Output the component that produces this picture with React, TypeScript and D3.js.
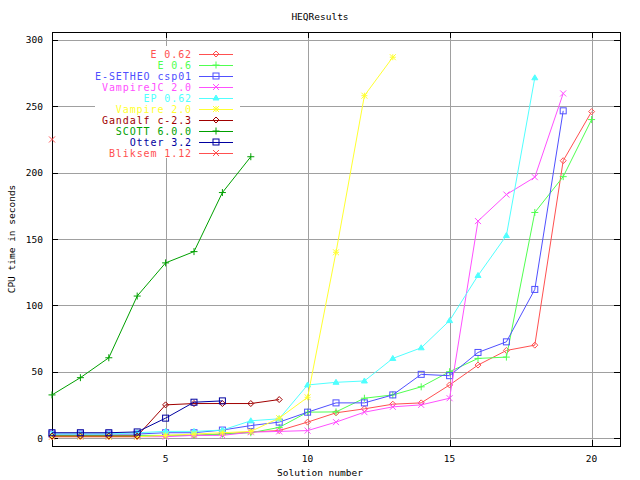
import React from "react";
import * as d3 from "d3";

const title = "HEQResults";
const xLabel = "Solution number";
const yLabel = "CPU time in seconds";
const xTicks = [5, 10, 15, 20];
const yTicks = [0, 50, 100, 150, 200, 250, 300];

const seriesNames = [
  "E 0.62",
  "E 0.6",
  "E-SETHEO csp01",
  "VampireJC 2.0",
  "EP 0.62",
  "Vampire 2.0",
  "Gandalf c-2.3",
  "SCOTT 6.0.0",
  "Otter 3.2",
  "Bliksem 1.12",
];
const seriesColors = [
  "#ff5050",
  "#50ff50",
  "#5050ff",
  "#ff50ff",
  "#50ffff",
  "#ffff30",
  "#a00000",
  "#00a000",
  "#0000a0",
  "#ff5050",
];
const seriesMarkers = ["diamond", "plus", "square", "cross", "triangle", "star", "diamond", "plus", "square", "cross"];

const e062 = [1, 1, 1, 1, 2, 2, 3, 4.6, 5.6, 12, 19, 22, 25.5, 26.5, 40, 55, 66, 70, 209, 246];
const e06 = [2, 2, 2, 2, 2, 2, 3, 4, 8, 19.5, 19.7, 30, 32.5, 38.6, 50, 60, 61, 170, 197, 240];
const eSetheo = [3, 3, 3, 3, 4, 4, 6, 9.4, 12, 19.5, 26.5, 26.5, 32.5, 48, 47, 64.5, 72.5, 112, 246.6];
const vampireJC = [1, 1, 1, 1, 1, 2, 2, 4.4, 5, 5.6, 12, 19.5, 23.5, 25, 30, 163.5, 183.5, 196.6, 259.7];
const ep062 = [3, 3, 3, 4, 5, 5, 6, 13, 14.5, 40, 42, 43, 60, 68, 88.5, 122.5, 152.6, 271.5];
const vampire = [1, 1, 1, 1, 2, 3, 4, 5, 15, 30.7, 140, 258, 287];
const gandalf = [1.5, 1.5, 1.5, 1.5, 25, 26, 26, 26, 29];
const scott = [32.5, 45.5, 60.5, 107, 132, 140.5, 185, 212];
const otter = [4, 4, 4, 4.6, 15, 27, 28];
const bliksem = [225];

const seriesValues = [e062, e06, eSetheo, vampireJC, ep062, vampire, gandalf, scott, otter, bliksem];

const W = 640;
const H = 480;
const left = 52;
const right = 620;
const top = 32;
const bottom = 446;

const x = d3.scaleLinear().domain([1, 21]).range([left, right]);
const y = d3.scaleLinear().domain([-6, 306]).range([bottom, top]);

function Marker({ type, cx, cy, color }: { type: string; cx: number; cy: number; color: string }) {
  const s = 3;
  const sw = 1;
  switch (type) {
    case "diamond":
      return (
        <path
          d={`M${cx},${cy - s}L${cx + s},${cy}L${cx},${cy + s}L${cx - s},${cy}Z`}
          fill="none"
          stroke={color}
          strokeWidth={sw}
        />
      );
    case "plus":
      return (
        <path d={`M${cx - s - 0.5},${cy}H${cx + s + 0.5}M${cx},${cy - s - 0.5}V${cy + s + 0.5}`} stroke={color} strokeWidth={sw} />
      );
    case "square":
      return <rect x={cx - s} y={cy - s} width={2 * s} height={2 * s} fill="none" stroke={color} strokeWidth={sw} />;
    case "cross":
      return (
        <path d={`M${cx - s},${cy - s}L${cx + s},${cy + s}M${cx - s},${cy + s}L${cx + s},${cy - s}`} stroke={color} strokeWidth={sw} />
      );
    case "triangle":
      return (
        <path d={`M${cx},${cy - s}L${cx + s},${cy + s - 1}L${cx - s},${cy + s - 1}Z`} fill={color} stroke={color} strokeWidth={sw} />
      );
    case "star":
      return (
        <path
          d={`M${cx - s},${cy}H${cx + s}M${cx},${cy - s}V${cy + s}M${cx - s},${cy - s}L${cx + s},${cy + s}M${cx - s},${cy + s}L${cx + s},${cy - s}`}
          stroke={color}
          strokeWidth={sw}
        />
      );
    default:
      return null;
  }
}

export default function App() {
  const line = d3
    .line<number>()
    .x((_, i) => x(i + 1))
    .y((d) => y(d));

  const mono = "'DejaVu Sans Mono', monospace";
  const keyTextX = 192;
  const keyLineX0 = 199;
  const keyLineX1 = 233;
  const keyY0 = 54;
  const keyStep = 11;

  return (
    <svg width={W} height={H} style={{ display: "block", position: "absolute", left: 0, top: 0 }}>
      <rect x={0} y={0} width={W} height={H} fill="#fff" />
      {/* grid */}
      <g shapeRendering="crispEdges" stroke="#a0a0a0" strokeWidth={1}>
        {xTicks.map((t) => (
          <line key={"gx" + t} x1={Math.round(x(t)) + 0.5} x2={Math.round(x(t)) + 0.5} y1={top} y2={bottom} />
        ))}
        {yTicks.map((t) => (
          <line key={"gy" + t} x1={left} x2={right} y1={Math.round(y(t)) + 0.5} y2={Math.round(y(t)) + 0.5} />
        ))}
      </g>
      {/* key background */}
      <rect x={95} y={46} width={145} height={112} fill="#fff" />
      {/* frame */}
      <rect
        x={left + 0.5}
        y={top + 0.5}
        width={right - left}
        height={bottom - top}
        fill="none"
        stroke="#000"
        strokeWidth={1}
        shapeRendering="crispEdges"
      />
      {/* ticks */}
      <g stroke="#000" shapeRendering="crispEdges">
        {xTicks.map((t) => (
          <g key={"tx" + t}>
            <line x1={Math.round(x(t)) + 0.5} x2={Math.round(x(t)) + 0.5} y1={bottom} y2={bottom - 6} />
            <line x1={Math.round(x(t)) + 0.5} x2={Math.round(x(t)) + 0.5} y1={top} y2={top + 6} />
          </g>
        ))}
        {yTicks.map((t) => (
          <g key={"ty" + t}>
            <line x1={left} x2={left + 6} y1={Math.round(y(t)) + 0.5} y2={Math.round(y(t)) + 0.5} />
            <line x1={right - 6} x2={right} y1={Math.round(y(t)) + 0.5} y2={Math.round(y(t)) + 0.5} />
          </g>
        ))}
      </g>
      {/* tick labels */}
      <g fontFamily={mono} fontSize={9.5} fill="#000">
        {xTicks.map((t) => (
          <text key={"lx" + t} x={x(t)} y={462} textAnchor="middle">
            {t}
          </text>
        ))}
        {yTicks.map((t) => (
          <text key={"ly" + t} x={43} y={y(t) + 3.5} textAnchor="end">
            {t}
          </text>
        ))}
      </g>
      <text x={320} y={20} textAnchor="middle" fontFamily={mono} fontSize={9.5}>
        {title}
      </text>
      <text x={320} y={476} textAnchor="middle" fontFamily={mono} fontSize={9.5}>
        {xLabel}
      </text>
      <text
        transform={`translate(15,${(top + bottom) / 2}) rotate(-90)`}
        textAnchor="middle"
        fontFamily={mono}
        fontSize={9.5}
      >
        {yLabel}
      </text>
      {/* series */}
      {seriesValues.map((vals, si) => (
        <g key={"s" + si}>
          <path d={line(vals) || ""} fill="none" stroke={seriesColors[si]} strokeWidth={1} />
          {vals.map((v, i) => (
            <Marker key={i} type={seriesMarkers[si]} cx={x(i + 1)} cy={y(v)} color={seriesColors[si]} />
          ))}
        </g>
      ))}
      {/* key */}
      <g fontFamily={mono} fontSize={10} letterSpacing={0.9}>
        {seriesNames.map((n, i) => {
          const ky = keyY0 + i * keyStep;
          return (
            <g key={"k" + i}>
              <text x={keyTextX} y={ky + 3.5} textAnchor="end" fill={seriesColors[i]}>
                {n}
              </text>
              <line x1={keyLineX0} x2={keyLineX1} y1={ky + 0.5} y2={ky + 0.5} stroke={seriesColors[i]} shapeRendering="crispEdges" />
              <Marker type={seriesMarkers[i]} cx={(keyLineX0 + keyLineX1) / 2} cy={ky} color={seriesColors[i]} />
            </g>
          );
        })}
      </g>
    </svg>
  );
}
